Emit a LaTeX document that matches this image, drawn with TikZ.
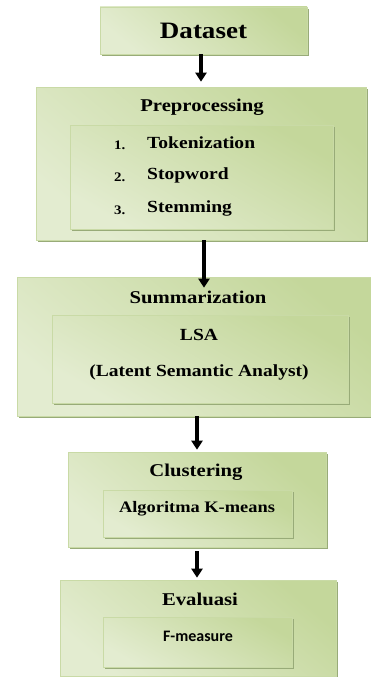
\documentclass[tikz,border=0pt]{standalone}
\usepackage{fontspec}
\setmainfont{Liberation Serif}[FakeStretch=1.15]
\newfontfamily\calib{Carlito}
\usetikzlibrary{arrows.meta,shadows}
\definecolor{gdark}{HTML}{C4D79B}
\definecolor{glight}{HTML}{EFF4E4}
\definecolor{gmid}{HTML}{E3ECD0}
\definecolor{gborder}{HTML}{C9DAA6}
\definecolor{gshadow}{HTML}{98AB78}
\tikzset{
  gbox/.style={draw=gborder, line width=0.6pt, inner sep=0pt,
    top color=gdark, middle color=glight, bottom color=gmid, shading angle=-40,
    drop shadow={shadow xshift=2.2pt, shadow yshift=-2.2pt, fill=gshadow, opacity=1}},
  ibox/.style={gbox, shading angle=-30},
  ttl/.style={font=\bfseries\fontsize{18}{20}\selectfont, inner sep=0pt},
  itm/.style={font=\bfseries\fontsize{17}{19}\selectfont, inner sep=0pt},
  num/.style={font=\bfseries\fontsize{13}{15}\selectfont, inner sep=0pt},
  arr/.style={line width=3.2pt, -{Triangle[width=11pt,length=9pt]}}
}
\begin{document}
\begin{tikzpicture}[x=1pt,y=-1pt]
\useasboundingbox (0,0) rectangle (371,677);
% Dataset
\node[gbox, minimum width=207pt, minimum height=47pt] (data) at (203.5,30.5) {};
\node[font=\bfseries\fontsize{23.5}{26}\selectfont, inner sep=0pt] (datat) at (203.5,31) {Dataset};
% Preprocessing
\node[gbox, minimum width=330pt, minimum height=153pt] (prep) at (201,163.5) {};
\node[ttl] (prept) at (202,107) {Preprocessing};
\node[ibox, minimum width=263pt, minimum height=104pt] (prepi) at (201.5,177) {};
\node[num, anchor=west] (n1) at (114,145) {1.};
\node[num, anchor=west] (n2) at (114,177) {2.};
\node[num, anchor=west] (n3) at (114,210) {3.};
\node[itm, anchor=west] (t1) at (147,143) {Tokenization};
\node[itm, anchor=west] (t2) at (147,175) {Stopword};
\node[itm, anchor=west] (t3) at (147,208) {Stemming};
% Summarization
\node[gbox, minimum width=356pt, minimum height=139pt] (summ) at (195,346.5) {};
\node[ttl] (summt) at (198,297) {Summarization};
\node[ibox, minimum width=296pt, minimum height=88pt] (summi) at (200,359) {};
\node[itm] (lsa) at (199,335) {LSA};
\node[itm] (lsa2) at (199,372) {(Latent Semantic Analyst)};
% Clustering
\node[gbox, minimum width=258pt, minimum height=95pt] (clus) at (197,499.5) {};
\node[ttl] (clust) at (196,472) {Clustering};
\node[ibox, minimum width=189pt, minimum height=47pt] (clusi) at (197.5,513.5) {};
\node[itm, font=\bfseries\fontsize{16}{18}\selectfont] (km) at (197,509) {Algoritma K-means};
% Evaluasi
\node[gbox, minimum width=276pt, minimum height=96pt] (eval) at (198,628) {};
\node[ttl] (evalt) at (200,599) {Evaluasi};
\node[ibox, minimum width=189pt, minimum height=50pt] (evali) at (197.5,642) {};
\node[font=\calib\bfseries\fontsize{16}{18}\selectfont, inner sep=0pt] (fm) at (198,636) {F-measure};
% arrows
\draw[arr, shorten >=5pt] (data.south -| prep.north) -- (prep.north);
\draw[arr, shorten >=-11pt] (prep.south) ++(3,0) coordinate (a2) (a2) -- (a2 |- summ.north);
\draw[arr, shorten >=2pt] (summ.south -| clus.north) -- (clus.north);
\draw[arr, shorten >=2pt, shorten <=4pt] (clus.south) -- (clus.south |- eval.north);
\end{tikzpicture}
\end{document}
